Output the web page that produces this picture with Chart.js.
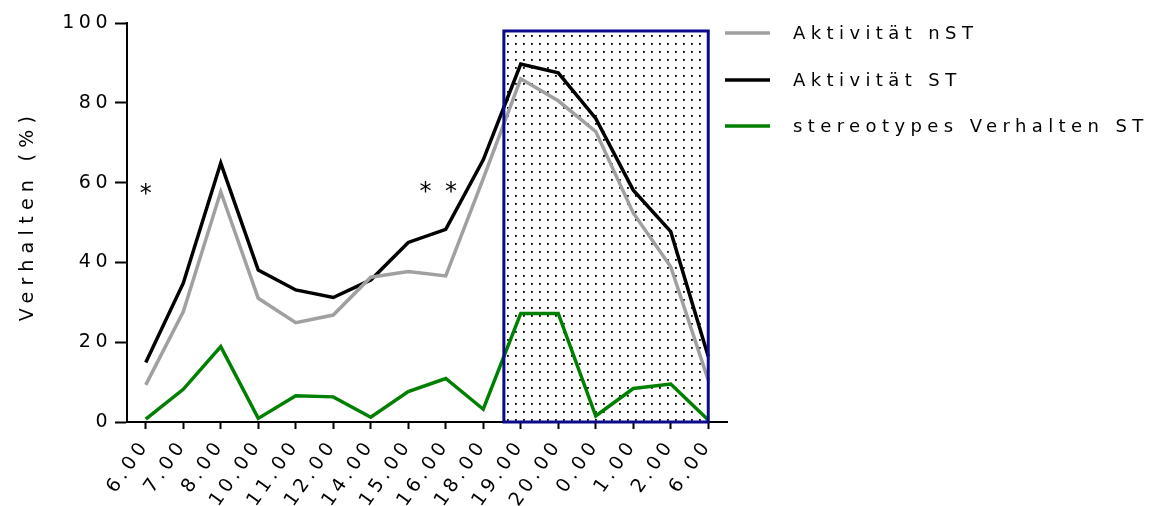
<!DOCTYPE html>
<html><head><meta charset="utf-8">
<script src="https://cdn.jsdelivr.net/npm/chart.js@4.4.1/dist/chart.umd.min.js"></script>
<style>html,body{margin:0;padding:0;background:#fff}#wrap{width:1152px;height:506px}</style>
</head><body><div id="wrap"><canvas id="c" width="1152" height="506"></canvas></div>
<script>
const categories = ['6.00','7.00','8.00','10.00','11.00','12.00','14.00','15.00','16.00','18.00','19.00','20.00','0.00','1.00','2.00','6.00'];
const aktivitaetNST = [9.3,27.6,57.7,31,24.9,26.8,36.3,37.7,36.6,61,86,80.5,72.8,52.4,38.9,10.5];
const aktivitaetST = [14.9,34.8,64.9,38.1,33.1,31.2,35.6,45,48.3,65.7,89.7,87.5,76.1,58.1,47.7,16.4];
const stereotypST = [0.7,8.2,18.9,0.9,6.6,6.3,1.2,7.6,10.9,3.2,27.2,27.2,1.5,8.4,9.5,0.5];
const seriesNames = ['Aktivität nST','Aktivität ST','stereotypes Verhalten ST'];
const seriesColors = ['#a0a0a0','#000000','#008000'];
const yTicks = [0,20,40,60,80,100];
const yTitle = 'Verhalten (%)';
const nightBox = {from: 9.55, to: 15, top: 98};
const significance = [{idx: 0, value: 58.5, text: '*'}, {idx: 7.8, value: 59, text: '* *'}];

const FONT = 'DejaVu Sans';
const SP = '4.5px';

function makeDots() {
  const p = document.createElement('canvas');
  p.width = 8; p.height = 8;
  const g = p.getContext('2d');
  g.fillStyle = '#000';
  g.fillRect(3, 3, 1.8, 1.8);
  return p;
}

const spacingPlugin = {
  id: 'spacing',
  beforeUpdate(chart) { chart.ctx.letterSpacing = SP; },
  beforeDraw(chart) { chart.ctx.letterSpacing = SP; }
};

const boxPlugin = {
  id: 'nightBox',
  beforeDatasetsDraw(chart) {
    const {ctx, scales: {x, y}} = chart;
    const l = x.getPixelForValue(nightBox.from), r = x.getPixelForValue(nightBox.to);
    const t = y.getPixelForValue(nightBox.top), b = y.getPixelForValue(0);
    ctx.save();
    ctx.fillStyle = ctx.createPattern(makeDots(), 'repeat');
    ctx.fillRect(l, t, r - l, b - t);
    ctx.restore();
  },
  afterDatasetsDraw(chart) {
    const {ctx, scales: {x, y}} = chart;
    const l = x.getPixelForValue(nightBox.from), r = x.getPixelForValue(nightBox.to);
    const t = y.getPixelForValue(nightBox.top), b = y.getPixelForValue(0);
    ctx.save();
    ctx.strokeStyle = '#0a0a8a';
    ctx.lineWidth = 3;
    ctx.strokeRect(l, t, r - l, b - t);
    ctx.restore();
  }
};

const extrasPlugin = {
  id: 'extras',
  afterDraw(chart) {
    const {ctx, scales: {x, y}} = chart;
    ctx.save();
    ctx.fillStyle = '#000';
    ctx.letterSpacing = '3px';
    ctx.font = '24px "' + FONT + '"';
    ctx.textAlign = 'center';
    ctx.textBaseline = 'middle';
    significance.forEach(s => {
      ctx.fillText(s.text, x.getPixelForValue(s.idx) + 1.5, y.getPixelForValue(s.value) + 6);
    });
    // y-axis title
    ctx.save();
    ctx.translate(28, (y.top + y.bottom) / 2 - 4);
    ctx.rotate(-Math.PI / 2);
    ctx.letterSpacing = '6.3px';
    ctx.font = '19px "' + FONT + '"';
    ctx.fillText(yTitle, 3, 0);
    ctx.restore();
    // legend
    const lx0 = 725, lx1 = 770, tx = 793, ys = [33, 80, 126];
    ctx.textAlign = 'left';
    ctx.letterSpacing = '5.4px';
    ctx.font = '18px "' + FONT + '"';
    seriesNames.forEach((n, i) => {
      ctx.strokeStyle = seriesColors[i];
      ctx.lineWidth = 3.5;
      ctx.beginPath(); ctx.moveTo(lx0, ys[i]); ctx.lineTo(lx1, ys[i]); ctx.stroke();
      ctx.fillText(n, tx, ys[i] + 1);
    });
    ctx.restore();
  }
};

const mk = (i, data) => ({
  label: seriesNames[i], data, borderColor: seriesColors[i], backgroundColor: seriesColors[i],
  borderWidth: 3.5, pointRadius: 0, tension: 0, fill: false
});

new Chart(document.getElementById('c'), {
  type: 'line',
  data: {
    labels: categories,
    datasets: [mk(2, stereotypST), mk(0, aktivitaetNST), mk(1, aktivitaetST)]
  },
  options: {
    responsive: false, animation: false, devicePixelRatio: 1,
    layout: {padding: {top: 23, right: 425, left: 0, bottom: 0}},
    plugins: {legend: {display: false}, tooltip: {enabled: false}},
    scales: {
      x: {
        type: 'category', offset: true,
        grid: {drawOnChartArea: false, offset: false, tickLength: 7, tickColor: '#000', tickWidth: 2},
        border: {color: '#000', width: 2},
        ticks: {color: '#000', font: {family: FONT, size: 19}, maxRotation: 55, minRotation: 55, padding: 6, autoSkip: false},
        afterFit(s) { s.height = 84; }
      },
      y: {
        min: 0, max: 100,
        afterBuildTicks(s) { s.ticks = yTicks.map(v => ({value: v})); },
        grid: {drawOnChartArea: false, tickLength: 12, tickColor: '#000', tickWidth: 2},
        border: {color: '#000', width: 2},
        ticks: {color: '#000', font: {family: FONT, size: 19}, padding: 3},
        afterFit(s) { s.width = 127; }
      }
    }
  },
  plugins: [spacingPlugin, boxPlugin, extrasPlugin]
});
</script></body></html>
